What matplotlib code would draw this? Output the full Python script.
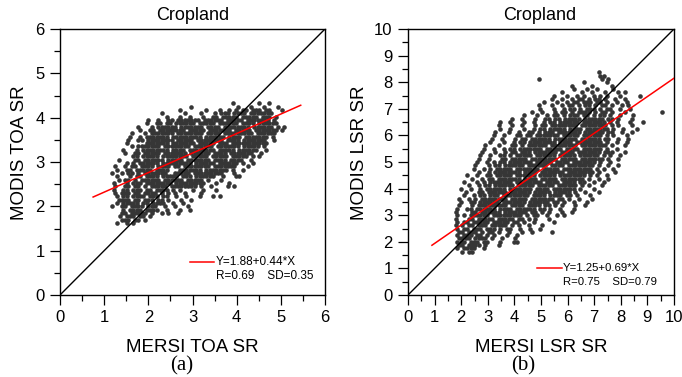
import matplotlib
matplotlib.use('Agg')
import matplotlib.pyplot as plt
from matplotlib.ticker import MultipleLocator

plt.rcParams['font.family'] = ['Liberation Sans', 'DejaVu Sans']

# ---------------- data ----------------
# Scatter clouds as occupancy maps: each row is
# (first column, pattern); '#' marks a plotted sample in that cell.
# Panel (a): cells start at x=1.1, y=4.4, step 0.075 (rows go downward).
grid_a = dict(x0=1.1, y0=4.4, dx=0.075, dy=0.075)
rows_a = [
    (0, ""),
    (37, "#.......#..#"),
    (25, "#.............#...#...#...#"),
    (21, "#.......#...#..#.#.##.###.##...#"),
    (16, "#......#....#...#.###.####.#######"),
    (17, "#...#..#...#..##.#####.#####.###.#"),
    (12, "#..#..##.#######.######.#####.#######.#."),
    (10, ".#..##.##.######.#####.######.####.######."),
    (9, "#...#.######.#######.####.########.######.#.#"),
    (8, ".#..##.########.#####.#######.#####.#######.#."),
    (7, "#...#.#######.########.####.#########.######."),
    (6, "#..#.#######.#########.######.####.#######.#."),
    (5, ".#..##.########.#####.########.####.#######..#"),
    (5, "#.....#######.#######.#####.###.###########.."),
    (5, "..#.#######.########.######.#######.#####.#."),
    (4, "#...#.########.####.########.#####.######..#"),
    (4, ".#..##.#####.#######.######.####.#######..#"),
    (4, "...##.#####.########.#####.#####.#####.#.#"),
    (3, "#....##.######.#####.#######.####.####..#."),
    (3, "..#.#.######.#########.######.######.#..#"),
    (2, "#..#.##.####.####.##.########.#######...#"),
    (1, ".#..##.#####.####...#######.#######.#..#."),
    (1, "#..#.##.#.#######..#####.#########...#.."),
    (2, "#...#.##.####.#####.###.######..#...##"),
    (2, ".#.##.#.######.######.#####.#...#.."),
    (1, "#...#.###.########.#########...#...#"),
    (1, ".#..##.##.#.#####.########.#..#....#.#"),
    (1, "#..##.###.##.####.#.#...#..#...#"),
    (1, ".#.###.##.####.#.#.#..#....#.."),
    (2, "#.##.####.###.##..#..#...#...#.#"),
    (2, ".####.##.###.##.#...#..#."),
    (2, "#.#####.##.####..#..#"),
    (1, "#..##.####.###..#..#...#"),
    (4, "#.####.####..#...#..#"),
    (4, "##.#####.#..#.#..#"),
    (3, "#.###.##.#.."),
    (3, ".###.##.#."),
    (2, "#..#.#"),
]

# Panel (b): cells start at x=1.6, y=8.5, step 0.125.
grid_b = dict(x0=1.6, y0=8.5, dx=0.125, dy=0.125)
rows_b = [
    (0, ""),
    (44, "#"),
    (45, "##"),
    (26, "#..................#.#"),
    (40, "#......#"),
    (36, "#.....#.....#"),
    (37, "#...#..#....#"),
    (33, "#.....#..#...#...#.#"),
    (31, "#...#..#.#..#.#.#...#.....#"),
    (30, "#..#..#.##.#.##.#..#..#"),
    (28, "#...#..#.##.###.##.#..#..#"),
    (26, "#...#..#.##.#.##.#.##.#..#.#"),
    (26, ".#...#..#.##.#.###.#.##..#..#"),
    (24, "#..#...#.##.#.####.#.##.#...#..........#"),
    (22, "#...#..#.##.#.###.##.#.##.#..#...#"),
    (18, "#..#...#..##.##.#####.######.##.#...#.."),
    (15, "#..#...#..#..#.##.######.#######.#.#...#...#"),
    (14, "#...#..#...#.##.########.########.#.#...#.."),
    (14, ".#..#...#..#.##.#####.####.#######.#..#...#."),
    (13, "#...#..#..##.#.###.#######.######.##..#..#."),
    (12, ".#..#...##.##.#######.#####.######.#.#...#.."),
    (12, "#..#...#.##.######.#######.######.##..#..#."),
    (11, ".#...#..#.##.########.####.########.#..#..#"),
    (10, "#...#...##.#.######.########.########.#...#."),
    (9, ".#..#..#.##.#######.#####.####.######.#..#.."),
    (9, "#...#..#.##.###.#######.####.#######.###...#"),
    (8, ".#..#..##.#.#####.######.#####.######.#.#..#"),
    (8, "#..#...##.#####.########.#####.#######.#..#."),
    (7, ".#..#.#.##.#######.#####.####.#######.#..#.."),
    (7, "#...#.##.######.######.####.########.#..#..#"),
    (6, ".#..#.#.#####.#######.#####.#########.#.#..#"),
    (6, "..#..#.########.####.#######.########.#....#"),
    (5, "#..#..##.#####.######.#####.########.#.#..#."),
    (5, ".#..#.##.#######.####.#####.#######.#..#..#"),
    (4, "#...#.#.#######.########.####.####.##..#..#."),
    (4, ".#..#.##.######.#####.#####.######.#.#...#."),
    (3, "#..#..#.######.#######.####.#######.#...#."),
    (3, ".#...##.######.######.#####.#####.#..#...#."),
    (3, ".#..#.##.###.########.####.####.##.#...#.."),
    (2, "#..#.#.########.#####.#######.##.#..#...#"),
    (2, ".#..##.######.#######.######.##.#..#...#"),
    (2, "#...#.#########.####.####.##.#.#...#..#"),
    (1, ".#..##.######.####.######.##.#..#...#."),
    (1, "#....##.######.#######.##.#.#...#..#"),
    (1, ".#.#.######.#########.#.##..#..#.#"),
    (1, "#...##.#####.#####.##.#.#...#..."),
    (1, ".#.##.#####.#####.##.#..#.....#."),
    (1, "#.#.##.###.#####.#.#..#...#."),
    (2, "#.##.###.###.#.##..#..#..#"),
    (2, "##.###.#.##.#..#...#..#.....#"),
    (2, "#.###.##.#.#...#..#.."),
    (2, "####.####.#..#...#."),
    (2, "###.###.##...#...##"),
    (2, "##.####.#...#"),
    (2, "#.####..#.."),
    (2, ".#.##."),
]

# regression lines (end points) and 1:1 lines
fit_a_x = [0.75, 5.45]
fit_a_y = [2.21, 4.28]
fit_b_x = [0.9, 10.0]
fit_b_y = [1.87, 8.15]
one_a = [0, 6]
one_b = [0, 10]

eq_a = "Y=1.88+0.44*X"
stat_a = "R=0.69    SD=0.35"
eq_b = "Y=1.25+0.69*X"
stat_b = "R=0.75    SD=0.79"

xticks_a = [0, 1, 2, 3, 4, 5, 6]
xticks_b = list(range(0, 11))


def cells_to_points(rows, g):
    xs, ys = [], []
    for j, (start, pattern) in enumerate(rows):
        shift = (j % 2) * g['dx'] / 2
        for k, ch in enumerate(pattern):
            if ch == '#':
                xs.append(g['x0'] + (start + k) * g['dx'] + shift)
                ys.append(g['y0'] - j * g['dy'])
    return xs, ys


W, H = 682, 377
fig = plt.figure(figsize=(W / 100, H / 100), dpi=100)


def fx(px):
    return px / W


def fy(py):
    return 1 - py / H


axA = fig.add_axes([fx(60), fy(295), fx(325) - fx(60), fy(29) - fy(295)])
axB = fig.add_axes([fx(408), fy(295), fx(674) - fx(408), fy(29) - fy(295)])

dot_color = '#363636'

for ax, rows, g, fx_, fy_, one, ticks in (
        (axA, rows_a, grid_a, fit_a_x, fit_a_y, one_a, xticks_a),
        (axB, rows_b, grid_b, fit_b_x, fit_b_y, one_b, xticks_b)):
    xs, ys = cells_to_points(rows, g)
    ax.plot(xs, ys, 'o', ms=3.3, mew=0, color=dot_color, zorder=2)
    ax.plot(one, one, color='black', lw=1.0, zorder=3)
    ax.plot(fx_, fy_, color='#ff0000', lw=1.1, zorder=4)
    ax.set_xlim(one[0], one[1])
    ax.set_ylim(one[0], one[1])
    ax.set_xticks(ticks)
    ax.set_yticks(ticks)
    ax.xaxis.set_minor_locator(MultipleLocator(0.5))
    ax.yaxis.set_minor_locator(MultipleLocator(0.5))
    ax.tick_params(which='both', direction='out', top=False, right=False,
                   width=0.9, labelsize=12, pad=4, colors='black')
    ax.tick_params(which='major', length=7)
    ax.tick_params(which='minor', length=4.3)
    for s in ax.spines.values():
        s.set_linewidth(1.0)

# legends drawn as in the reference
axA.plot([0.49, 0.58], [0.124, 0.124], transform=axA.transAxes, color='#ff0000', lw=1.1)
axA.text(0.589, 0.124, eq_a, transform=axA.transAxes, va='center', fontsize=8.5)
axA.text(0.589, 0.071, stat_a, transform=axA.transAxes, va='center', fontsize=8.5)

axB.plot([0.485, 0.579], [0.10, 0.10], transform=axB.transAxes, color='#ff0000', lw=1.1)
axB.text(0.583, 0.10, eq_b, transform=axB.transAxes, va='center', fontsize=8.2)
axB.text(0.583, 0.048, stat_b, transform=axB.transAxes, va='center', fontsize=8.2)

# titles and labels
fig.text(fx(192.5), fy(20.5), 'Cropland', ha='center', va='baseline', fontsize=13)
fig.text(fx(540), fy(20.5), 'Cropland', ha='center', va='baseline', fontsize=13)
fig.text(fx(192), fy(352), 'MERSI TOA SR', ha='center', va='baseline', fontsize=13.5)
fig.text(fx(541), fy(352), 'MERSI LSR SR', ha='center', va='baseline', fontsize=13.5)
fig.text(fx(19.5), fy(153), 'MODIS TOA SR', rotation=90, ha='center', va='center', fontsize=13.5)
fig.text(fx(360), fy(153), 'MODIS LSR SR', rotation=90, ha='center', va='center', fontsize=13.5)
serif = ['Liberation Serif', 'DejaVu Serif']
fig.text(fx(182), fy(370), '(a)', family=serif, ha='center', va='baseline', fontsize=15)
fig.text(fx(523), fy(370), '(b)', family=serif, ha='center', va='baseline', fontsize=15)

fig.savefig('out.png', dpi=100)
